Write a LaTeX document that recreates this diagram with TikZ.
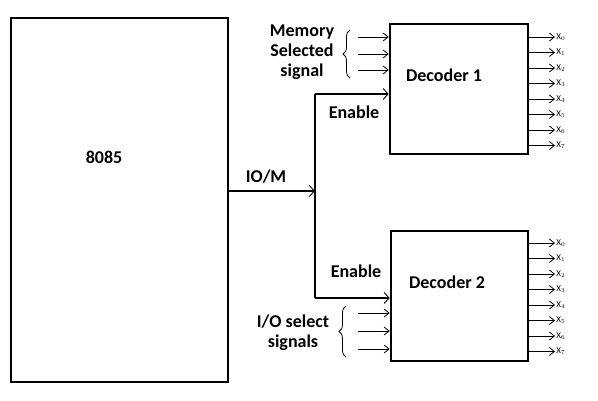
\documentclass[tikz,border=0pt]{standalone}
\usepackage{fontspec}
\setmainfont{Carlito}
\usetikzlibrary{arrows.meta,decorations.pathreplacing}
\begin{document}
\begin{tikzpicture}[x=1pt,y=-1pt,
  blk/.style={draw,line width=2.6pt,inner sep=0pt},
  lbl/.style={font=\bfseries\fontsize{18}{20}\selectfont,inner sep=0pt,align=center},
  bus/.style={line width=2.6pt},
  bustip/.style={-{Straight Barb[line width=0.9pt,length=5pt,width=11pt]}},
  sig/.style={line width=0.8pt,-{Straight Barb[line width=0.8pt,length=5pt,width=8pt]}},
  outl/.style={font=\fontsize{9}{10}\selectfont,inner sep=1pt,anchor=west},
  brc/.style={decorate,decoration={brace,amplitude=7pt},line width=0.8pt}]
\useasboundingbox (0,0) rectangle (598,400);
\fill[white] (0,0) rectangle (598,400);
% blocks
\node[blk,minimum width=217pt,minimum height=364pt] (cpu) at (119.5,200) {};
\node[blk,minimum width=138pt,minimum height=130pt] (dec1) at (459,89) {};
\node[blk,minimum width=137pt,minimum height=130pt] (dec2) at (459.5,296) {};
\node[lbl] (cpul) at (104,157) {8085};
\node[lbl] (d1l) at (444,75) {Decoder 1};
\node[lbl] (d2l) at (447,282) {Decoder 2};
% bus
\coordinate (j) at (315,191);
\coordinate (jt) at (315,94);
\coordinate (jb) at (315,298);
\draw[bus,bustip] (cpu.east |- j) -- (j);
\draw[bus] (jt) -- (jb);
\draw[bus,bustip] (jt) -- (dec1.west |- jt);
\draw[bus,bustip] (jb) -- (dec2.west |- jb);
\node[lbl] (iom) at (266,177) {IO/M};
\node[lbl] (en1) at (354,112) {Enable};
\node[lbl] (en2) at (356,271) {Enable};
% memory select inputs
\foreach \y [count=\i] in {37,54,70} {
  \coordinate (m\i) at (358,\y);
  \draw[sig] (m\i) -- (dec1.west |- m\i);
}
\coordinate (mbt) at (350,30);
\coordinate (mbb) at (350,78);
\draw[brc] (mbb) -- (mbt);
\node[lbl] (mem) at (302,52) {Memory\\Selected\\signal};
% io select inputs
\foreach \y [count=\i] in {313,331,349} {
  \coordinate (s\i) at (358,\y);
  \draw[sig] (s\i) -- (dec2.west |- s\i);
}
\coordinate (sbt) at (346,306);
\coordinate (sbb) at (346,357);
\draw[brc] (sbb) -- (sbt);
\node[lbl] (iosel) at (293,333) {I/O select\\signals};
% outputs
\foreach \y [count=\i from 0] in {37,52.5,68,83.5,99,114.5,130,145.5} {
  \coordinate (oa\i) at (555,\y);
  \draw[sig] (dec1.east |- oa\i) -- (oa\i) node[outl] (xa\i) {X$_{\i}$};
}
\foreach \y [count=\i from 0] in {243,258.5,274,289.5,305,320.5,336,351.5} {
  \coordinate (ob\i) at (555,\y);
  \draw[sig] (dec2.east |- ob\i) -- (ob\i) node[outl] (xb\i) {X$_{\i}$};
}
\end{tikzpicture}
\end{document}
